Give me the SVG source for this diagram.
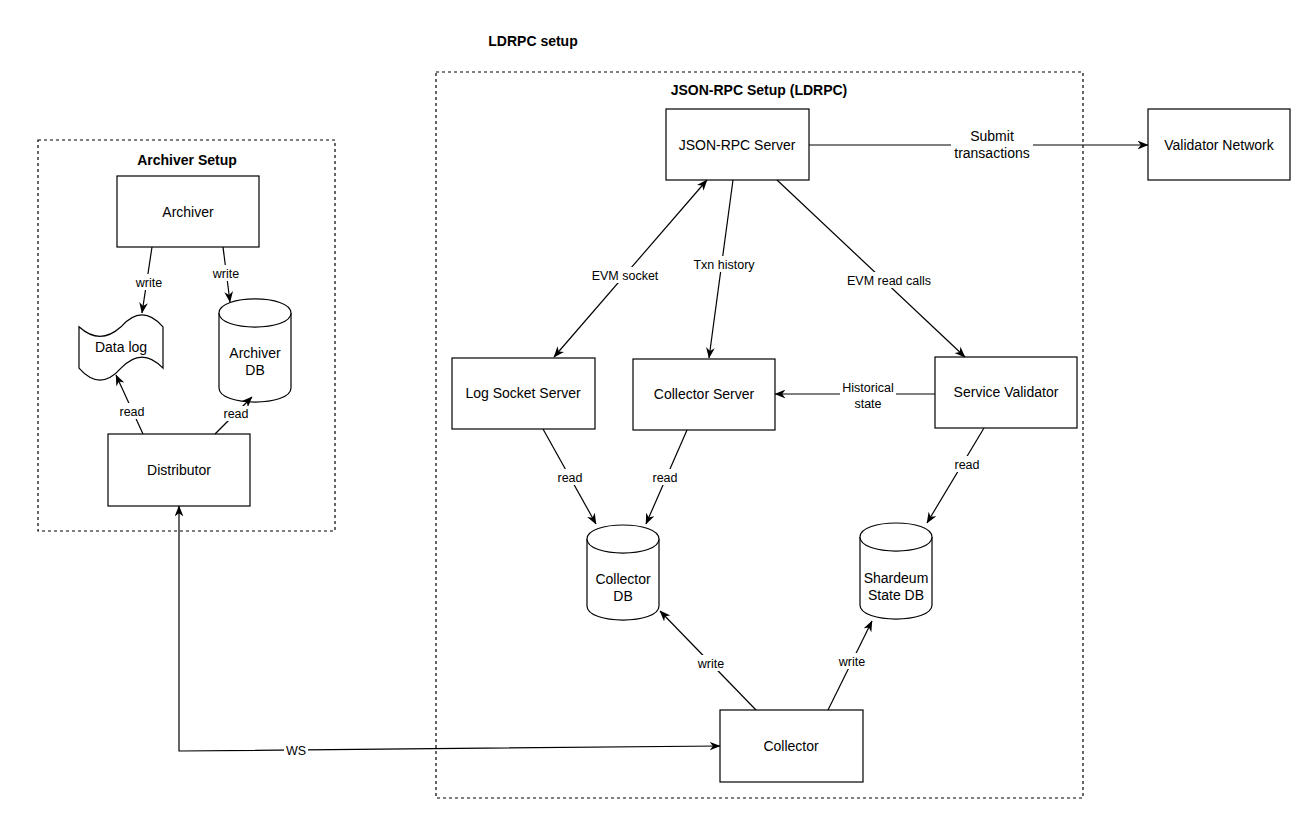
<svg xmlns="http://www.w3.org/2000/svg" width="1308" height="820" viewBox="0 0 1308 820">
<style>
  text { font-family: "Liberation Sans", Arial, Helvetica, sans-serif; fill: #000; }
  .node { fill: #fff; stroke: #000; stroke-width: 1.2; }
  .grp { fill: none; stroke: #000; stroke-width: 1.2; stroke-dasharray: 3 3; }
  .t { font-size: 14px; text-anchor: middle; }
  .title { font-size: 14px; font-weight: bold; text-anchor: middle; }
  .edge { fill: none; stroke: #000; stroke-width: 1.2; marker-end: url(#arr); }
  .both { marker-start: url(#arr); }
  .lbl { font-size: 12.5px; text-anchor: middle; }
  .bg { fill: #fff; stroke: none; }
</style>
<defs>
  <marker id="arr" viewBox="0 0 10 8" refX="9.5" refY="4" markerWidth="11" markerHeight="9" markerUnits="userSpaceOnUse" orient="auto-start-reverse">
    <path d="M0,0 L10,4 L0,8 L3,4 Z" fill="#000"/>
  </marker>
</defs>
<rect width="1308" height="820" fill="#fff"/>
<text class="title" x="533" y="46">LDRPC setup</text>

<g id="archiver-setup">
  <rect class="grp" x="38" y="140" width="297" height="391"/>
  <text class="title" x="187" y="165">Archiver Setup</text>
</g>
<g id="jsonrpc-setup">
  <rect class="grp" x="436" y="72" width="647" height="726"/>
  <text class="title" x="759" y="95">JSON-RPC Setup (LDRPC)</text>
</g>

<g id="archiver">
  <rect class="node" x="117" y="176" width="142" height="71"/>
  <text class="t" x="188" y="217">Archiver</text>
</g>
<g id="data-log">
  <path class="node" d="M79,326.8 Q100,346 121,326.8 Q142,303 163,326.8 L163,368.2 Q142,346 121,368.2 Q100,392 79,368.2 Z"/>
  <text class="t" x="121" y="352">Data log</text>
</g>
<g id="archiver-db">
  <path class="node" d="M219,313 C219,294.3 291,294.3 291,313 L291,388 C291,406.7 219,406.7 219,388 Z"/>
  <path class="node" fill="none" d="M219,313 C219,331.7 291,331.7 291,313"/>
  <text class="t" x="255" y="358">Archiver</text>
  <text class="t" x="255" y="375">DB</text>
</g>
<g id="distributor">
  <rect class="node" x="108" y="434" width="142" height="72"/>
  <text class="t" x="179" y="475">Distributor</text>
</g>
<g id="jsonrpc-server">
  <rect class="node" x="666" y="109" width="143" height="71"/>
  <text class="t" x="737" y="150">JSON-RPC Server</text>
</g>
<g id="validator-network">
  <rect class="node" x="1148" y="109" width="142" height="71"/>
  <text class="t" x="1219" y="150">Validator Network</text>
</g>
<g id="log-socket-server">
  <rect class="node" x="452" y="358" width="143" height="71"/>
  <text class="t" x="523" y="398">Log Socket Server</text>
</g>
<g id="collector-server">
  <rect class="node" x="633" y="359" width="142" height="71"/>
  <text class="t" x="704" y="399">Collector Server</text>
</g>
<g id="service-validator">
  <rect class="node" x="935" y="357" width="142" height="71"/>
  <text class="t" x="1006" y="397">Service Validator</text>
</g>
<g id="collector-db">
  <path class="node" d="M587,539 C587,520.3 659,520.3 659,539 L659,606 C659,624.7 587,624.7 587,606 Z"/>
  <path class="node" fill="none" d="M587,539 C587,557.7 659,557.7 659,539"/>
  <text class="t" x="623" y="584">Collector</text>
  <text class="t" x="623" y="601">DB</text>
</g>
<g id="shardeum-state-db">
  <path class="node" d="M860,537 C860,518.3 932,518.3 932,537 L932,605 C932,623.7 860,623.7 860,605 Z"/>
  <path class="node" fill="none" d="M860,537 C860,555.7 932,555.7 932,537"/>
  <text class="t" x="896" y="583">Shardeum</text>
  <text class="t" x="896" y="600">State DB</text>
</g>
<g id="collector">
  <rect class="node" x="720" y="710" width="143" height="72"/>
  <text class="t" x="791" y="751">Collector</text>
</g>

<g id="connectors">
  <line class="edge" x1="152" y1="247" x2="142" y2="313"/>
  <line class="edge" x1="223" y1="247" x2="230" y2="302"/>
  <line class="edge" x1="143" y1="434" x2="116" y2="375"/>
  <line class="edge" x1="215" y1="434" x2="252" y2="397"/>
  <path class="edge both" d="M179,506 L179,751 L720,746"/>
  <line class="edge" x1="809" y1="145" x2="1148" y2="145"/>
  <line class="edge both" x1="707" y1="180" x2="554" y2="357"/>
  <line class="edge" x1="733" y1="180" x2="709" y2="358"/>
  <line class="edge" x1="777" y1="180" x2="965" y2="357"/>
  <line class="edge" x1="935" y1="394" x2="775" y2="394"/>
  <line class="edge" x1="543" y1="429" x2="596" y2="524"/>
  <line class="edge" x1="687" y1="430" x2="646" y2="524"/>
  <line class="edge" x1="984" y1="428" x2="927" y2="523"/>
  <line class="edge" x1="756" y1="710" x2="660" y2="611"/>
  <line class="edge" x1="828" y1="710" x2="872" y2="621"/>

  <rect class="bg" x="134" y="274" width="30" height="16"/>
  <text class="lbl" x="149" y="287">write</text>
  <rect class="bg" x="211" y="265" width="30" height="16"/>
  <text class="lbl" x="226" y="278">write</text>
  <rect class="bg" x="119" y="403" width="27" height="16"/>
  <text class="lbl" x="132" y="416">read</text>
  <rect class="bg" x="222" y="406" width="27" height="15"/>
  <text class="lbl" x="236" y="418">read</text>
  <rect class="bg" x="284" y="742" width="24" height="16"/>
  <text class="lbl" x="296" y="755">WS</text>
  <rect class="bg" x="951" y="126" width="82" height="36"/>
  <text class="lbl" style="font-size:14px" x="992" y="141">Submit</text>
  <text class="lbl" style="font-size:14px" x="992" y="158">transactions</text>
  <rect class="bg" x="590" y="267" width="70" height="16"/>
  <text class="lbl" x="625" y="280">EVM socket</text>
  <rect class="bg" x="692" y="256" width="64" height="16"/>
  <text class="lbl" x="724" y="269">Txn history</text>
  <rect class="bg" x="845" y="272" width="88" height="16"/>
  <text class="lbl" x="889" y="285">EVM read calls</text>
  <rect class="bg" x="840" y="381" width="56" height="30"/>
  <text class="lbl" x="868" y="392">Historical</text>
  <text class="lbl" x="868" y="408">state</text>
  <rect class="bg" x="557" y="469" width="27" height="16"/>
  <text class="lbl" x="570" y="482">read</text>
  <rect class="bg" x="652" y="469" width="27" height="16"/>
  <text class="lbl" x="665" y="482">read</text>
  <rect class="bg" x="954" y="456" width="27" height="16"/>
  <text class="lbl" x="967" y="469">read</text>
  <rect class="bg" x="696" y="655" width="30" height="16"/>
  <text class="lbl" x="711" y="668">write</text>
  <rect class="bg" x="837" y="653" width="30" height="16"/>
  <text class="lbl" x="852" y="666">write</text>
</g>
</svg>
